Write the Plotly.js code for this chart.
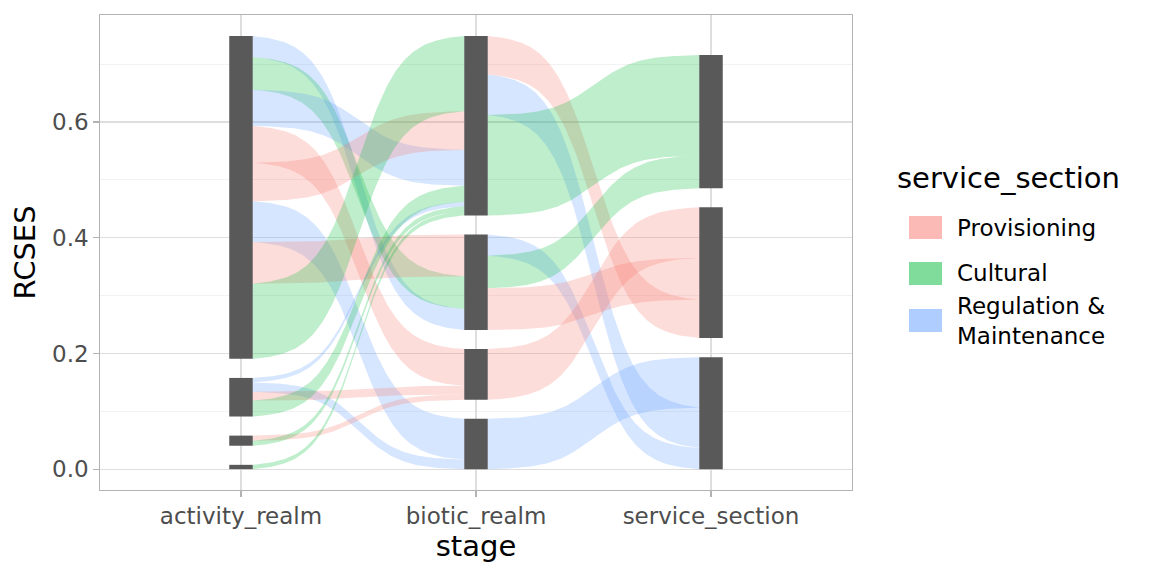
<!DOCTYPE html>
<html><head><meta charset="utf-8">
<script src="https://cdn.plot.ly/plotly-3.0.1.min.js"></script>
<style>body{margin:0;background:#fff}#chart{width:1152px;height:576px}</style>
</head><body><div id="chart"></div>
<script>
// ---------------- data ----------------
const stages = ["activity_realm", "biotic_realm", "service_section"];
const services = ["Provisioning", "Cultural", "Regulation & Maintenance"];
const serviceColors = ["248,118,109", "0,186,56", "97,156,255"];

// nodes on each stage, listed top -> bottom
const activityNodes = ["activity_1", "activity_2", "activity_3", "activity_4"];
const bioticNodes = ["biotic_1", "biotic_2", "biotic_3", "biotic_4"];
const serviceNodes = ["Cultural", "Provisioning", "Regulation & Maintenance"];

// stage 1 flows (activity_realm -> biotic_realm), listed in source order (top -> bottom)
const flowFrom = ["activity_1","activity_1","activity_1","activity_1","activity_1","activity_1","activity_1","activity_1",
                  "activity_2","activity_2","activity_2","activity_2","activity_3","activity_3","activity_4"];
const flowTo = ["biotic_2","biotic_2","biotic_1","biotic_3","biotic_1","biotic_4","biotic_2","biotic_1",
                "biotic_1","biotic_4","biotic_3","biotic_1","biotic_3","biotic_1","biotic_1"];
const flowService = ["Regulation & Maintenance","Cultural","Regulation & Maintenance","Provisioning","Provisioning",
                     "Regulation & Maintenance","Provisioning","Cultural","Regulation & Maintenance",
                     "Regulation & Maintenance","Provisioning","Cultural","Provisioning","Cultural","Cultural"];
const flowValue = [0.0365, 0.0565, 0.0625, 0.0635, 0.0665, 0.0705, 0.072, 0.130,
                   0.0076, 0.0165, 0.015, 0.0276, 0.009, 0.0085, 0.0075];
const flowRankAtTarget = [2, 1, 2, 0, 1, 0, 0, 0, 4, 1, 1, 3, 2, 5, 6];

// stage 2 flows (biotic_realm -> service_section), listed in source order (top -> bottom)
const flow2From = ["biotic_1","biotic_1","biotic_1","biotic_2","biotic_2","biotic_2","biotic_3","biotic_4"];
const flow2Service = ["Provisioning","Regulation & Maintenance","Cultural","Regulation & Maintenance",
                      "Cultural","Provisioning","Provisioning","Regulation & Maintenance"];
const flow2RankAtTarget = [2, 1, 0, 2, 1, 1, 0, 0];

const nodeGap = 0.033;
const nodeWidth = 0.1;
const smooth = 5;

// ---------------- computation ----------------
const flow2Value = flow2From.map((b, i) => {
  let s = 0;
  flowTo.forEach((t, j) => { if (t === b && flowService[j] === flow2Service[i]) s += flowValue[j]; });
  return s;
});

function sumBy(keys, vals, name) {
  let s = 0; keys.forEach((k, i) => { if (k === name) s += vals[i]; }); return s;
}
function stack(names, sizes) {
  const pos = {}; let y = 0;
  for (let i = names.length - 1; i >= 0; i--) {
    pos[names[i]] = {bottom: y, top: y + sizes[i], size: sizes[i]};
    y += sizes[i] + nodeGap;
  }
  return pos;
}
const actSizes = activityNodes.map(n => sumBy(flowFrom, flowValue, n));
const bioSizes = bioticNodes.map(n => sumBy(flowTo, flowValue, n));
const serSizes = serviceNodes.map(n => sumBy(flow2Service, flow2Value, n));
const actPos = stack(activityNodes, actSizes);
const bioPos = stack(bioticNodes, bioSizes);
const serPos = stack(serviceNodes, serSizes);

function sourceSpans(from, vals, pos) {
  const cur = {}; Object.keys(pos).forEach(k => cur[k] = pos[k].top);
  return from.map((f, i) => { const t = cur[f]; cur[f] -= vals[i]; return [t, t - vals[i]]; });
}
function targetSpans(to, vals, ranks, pos) {
  const out = new Array(to.length);
  Object.keys(pos).forEach(k => {
    const idx = to.map((t, i) => i).filter(i => to[i] === k).sort((a, b) => ranks[a] - ranks[b]);
    let y = pos[k].top;
    idx.forEach(i => { out[i] = [y, y - vals[i]]; y -= vals[i]; });
  });
  return out;
}
const s1src = sourceSpans(flowFrom, flowValue, actPos);
const s1tgt = targetSpans(flowTo, flowValue, flowRankAtTarget, bioPos);
const s2src = sourceSpans(flow2From, flow2Value, bioPos);
const s2tgt = targetSpans(flow2Service, flow2Value, flow2RankAtTarget, serPos);

function sigmoid(x0, x1, y0, y1) {
  const xs = [], ys = [], n = 120, sm = smooth;
  const lo = 1 / (1 + Math.exp(sm)), hi = 1 / (1 + Math.exp(-sm));
  for (let k = 0; k < n; k++) {
    const s = -sm + 2 * sm * k / (n - 1);
    const f = (1 / (1 + Math.exp(-s)) - lo) / (hi - lo);
    xs.push(x0 + (s + sm) / (2 * sm) * (x1 - x0));
    ys.push(y0 + f * (y1 - y0));
  }
  return [xs, ys];
}
function ribbon(x0, x1, src, tgt, service) {
  const [xa, ya] = sigmoid(x0, x1, src[0], tgt[0]);
  const [xb, yb] = sigmoid(x0, x1, src[1], tgt[1]);
  const col = serviceColors[services.indexOf(service)];
  return {
    type: "scatter", mode: "lines", x: xa.concat(xb.slice().reverse()), y: ya.concat(yb.slice().reverse()),
    fill: "toself", fillcolor: "rgba(" + col + ",0.25)", line: {width: 0, color: "rgba(0,0,0,0)"},
    hoverinfo: "skip", showlegend: false
  };
}
const traces = [];
flowFrom.forEach((f, i) => traces.push(ribbon(1 + nodeWidth / 2, 2 - nodeWidth / 2, s1src[i], s1tgt[i], flowService[i])));
flow2From.forEach((f, i) => traces.push(ribbon(2 + nodeWidth / 2, 3 - nodeWidth / 2, s2src[i], s2tgt[i], flow2Service[i])));

// nodes as bars
const nodeX = [], nodeBase = [], nodeH = [], nodeText = [];
[[activityNodes, actPos, 1], [bioticNodes, bioPos, 2], [serviceNodes, serPos, 3]].forEach(([names, pos, x]) => {
  names.forEach(n => { nodeX.push(x); nodeBase.push(pos[n].bottom); nodeH.push(pos[n].size); nodeText.push(n); });
});
traces.push({type: "bar", x: nodeX, y: nodeH, base: nodeBase, width: nodeWidth, text: nodeText,
  textposition: "none", marker: {color: "#595959", line: {width: 0}}, showlegend: false, hoverinfo: "text"});

// legend (drawn manually)
const legendY = [0.5526, 0.4558, 0.3568];
const legendLabels = ["Provisioning", "Cultural", "Regulation &<br>Maintenance"];
const shapes = [], annotations = [];
annotations.push({xref: "paper", yref: "paper", x: 1.0572, y: 0.6568, xanchor: "left", yanchor: "middle",
  text: "service_section", showarrow: false, font: {size: 29, color: "#000"}});
services.forEach((s, i) => {
  shapes.push({type: "rect", xref: "paper", yref: "paper", x0: 1.0758, x1: 1.1197,
    y0: legendY[i] - 0.0242, y1: legendY[i] + 0.0242, line: {width: 0}, fillcolor: "rgba(" + serviceColors[i] + ",0.5)"});
  annotations.push({xref: "paper", yref: "paper", x: 1.137, y: legendY[i], xanchor: "left", yanchor: "middle",
    align: "left", showarrow: false, text: legendLabels[i], font: {size: 23, color: "#000"}});
});

const layout = {
  width: 1152, height: 576,
  margin: {l: 100, r: 300, t: 15, b: 86},
  paper_bgcolor: "#fff", plot_bgcolor: "#fff",
  font: {family: "DejaVu Sans", color: "#000"},
  showlegend: false, barmode: "overlay",
  xaxis: {range: [0.4, 3.6], tickmode: "array", tickvals: [1, 2, 3], ticktext: stages,
    showgrid: true, gridcolor: "#dedede", gridwidth: 1.2, zeroline: false,
    showline: true, linecolor: "#b3b3b3", linewidth: 1.3, mirror: true,
    ticks: "outside", ticklen: 5.5, tickcolor: "#b3b3b3", tickwidth: 1.2,
    tickfont: {size: 23, color: "#4d4d4d"},
    title: {text: "stage", font: {size: 29, color: "#000"}, standoff: 4}},
  yaxis: {range: [-0.036, 0.785], tickmode: "array", tickvals: [0, 0.2, 0.4, 0.6], ticktext: ["0.0", "0.2", "0.4", "0.6"],
    minor: {tickmode: "array", tickvals: [0.1, 0.3, 0.5, 0.7], showgrid: true, gridcolor: "#ececec", gridwidth: 0.7, ticks: ""},
    showgrid: true, gridcolor: "#dedede", gridwidth: 1.2, zeroline: false,
    showline: true, linecolor: "#b3b3b3", linewidth: 1.3, mirror: true,
    ticks: "outside", ticklen: 5.5, tickcolor: "#b3b3b3", tickwidth: 1.2,
    tickfont: {size: 23, color: "#4d4d4d"},
    title: {text: "RCSES", font: {size: 29, color: "#000"}, standoff: 8}},
  shapes: shapes, annotations: annotations
};
Plotly.newPlot("chart", traces, layout, {displayModeBar: false, staticPlot: true});
</script>
</body></html>
